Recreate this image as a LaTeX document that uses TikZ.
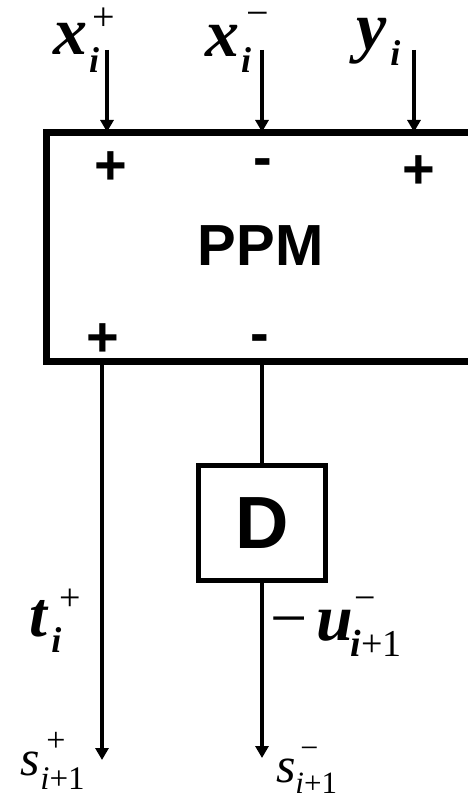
\documentclass[tikz,border=0pt]{standalone}
\usepackage{fontspec}
\setmainfont{Liberation Serif}
\newfontfamily\sansb{Liberation Sans}
\usetikzlibrary{arrows.meta}
\newcommand{\fs}[1]{\fontsize{#1}{#1}\selectfont}
\begin{document}
\begin{tikzpicture}[x=1pt,y=-1pt,
  lab/.style={inner sep=0pt, outer sep=0pt, anchor=base west},
  sign/.style={inner sep=0pt, outer sep=0pt, anchor=base, font=\sansb\bfseries\fs{56}},
  arr/.style={line width=3.5pt, -{Triangle[length=12pt,width=13pt]}},
  wire/.style={line width=3.5pt},
  bigbox/.style={draw, line width=7pt, inner sep=0pt, outer sep=0pt},
  dlbox/.style={draw, line width=5.5pt, inner sep=0pt, outer sep=0pt}]
\clip (0,0) rectangle (468,797);
\fill[white] (0,0) rectangle (468,797);
% main block
\node[bigbox, minimum width=450pt, minimum height=229pt, anchor=north west] (ppm) at (46.5,132) {};
\node[inner sep=0pt, font=\sansb\bfseries\fs{58}] (ppmtext) at (260.5,246) {PPM};
% signs
\node[sign] (s1) at (111,184.6) {+};
\node[sign] (s2) at (263,176.6) {-};
\node[sign] (s3) at (419,188.6) {+};
\node[sign] (s4) at (103,356.6) {+};
\node[sign] (s5) at (260,352.6) {-};
% delay block
\node[dlbox, minimum width=127pt, minimum height=115pt, font=\sansb\bfseries\fs{74}] (dbox) at (262,523) {D};
% inputs
\coordinate (inxp) at (107,50);
\coordinate (inxm) at (262,50);
\coordinate (iny) at (414,50);
\draw[arr] (inxp) -- (inxp |- ppm.north);
\draw[arr] (inxm) -- (inxm |- ppm.north);
\draw[arr] (iny) -- (iny |- ppm.north);
% outputs
\coordinate (endp) at (102,760);
\coordinate (endm) at (262,758);
\draw[arr] (endp |- ppm.south) -- (endp);
\draw[wire] (dbox.north |- ppm.south) -- (dbox.north);
\draw[arr] (dbox.south) -- (endm);
% labels
\node[lab] (lxp) at (53,55) {\fs{68}\textbf{\textit{x}}\rlap{\hspace{5pt}\raisebox{24pt}{\fs{40}+}}\hspace{2pt}\raisebox{-18pt}{\fs{36}\textbf{\textit{i}}}};
\node[lab] (lxm) at (205,57) {\fs{68}\textbf{\textit{x}}\rlap{\hspace{7pt}\raisebox{30pt}{\fs{40}−}}\hspace{2pt}\raisebox{-16pt}{\fs{36}\textbf{\textit{i}}}};
\node[lab] (ly) at (356,50) {\fs{68}\textbf{\textit{y}}\hspace{4pt}\raisebox{-16pt}{\fs{36}\textbf{\textit{i}}}};
\node[lab] (lt) at (29,636) {\fs{64}\textbf{\textit{t}}\rlap{\hspace{11pt}\raisebox{26pt}{\fs{38}+}}\hspace{3pt}\raisebox{-16pt}{\fs{36}\textbf{\textit{i}}}};
\node[lab] (lu) at (270,640) {\fs{66}−\hspace{9pt}\textbf{\textit{u}}\rlap{\hspace{2pt}\raisebox{30pt}{\fs{38}−}}\hspace{-2pt}\raisebox{-16pt}{\fs{38}\textbf{\textit{i}}+1}};
\node[lab] (lsp) at (20,775) {\fs{50}\textit{s}\rlap{\hspace{7pt}\raisebox{24pt}{\fs{34}+}}\hspace{1pt}\raisebox{-14pt}{\fs{33}\textit{i}+1}};
\node[lab] (lsm) at (276,782) {\fs{50}\textit{s}\rlap{\hspace{5pt}\raisebox{24pt}{\fs{32}−}}\hspace{0pt}\raisebox{-11pt}{\fs{31}\textit{i}+1}};
\end{tikzpicture}
\end{document}
